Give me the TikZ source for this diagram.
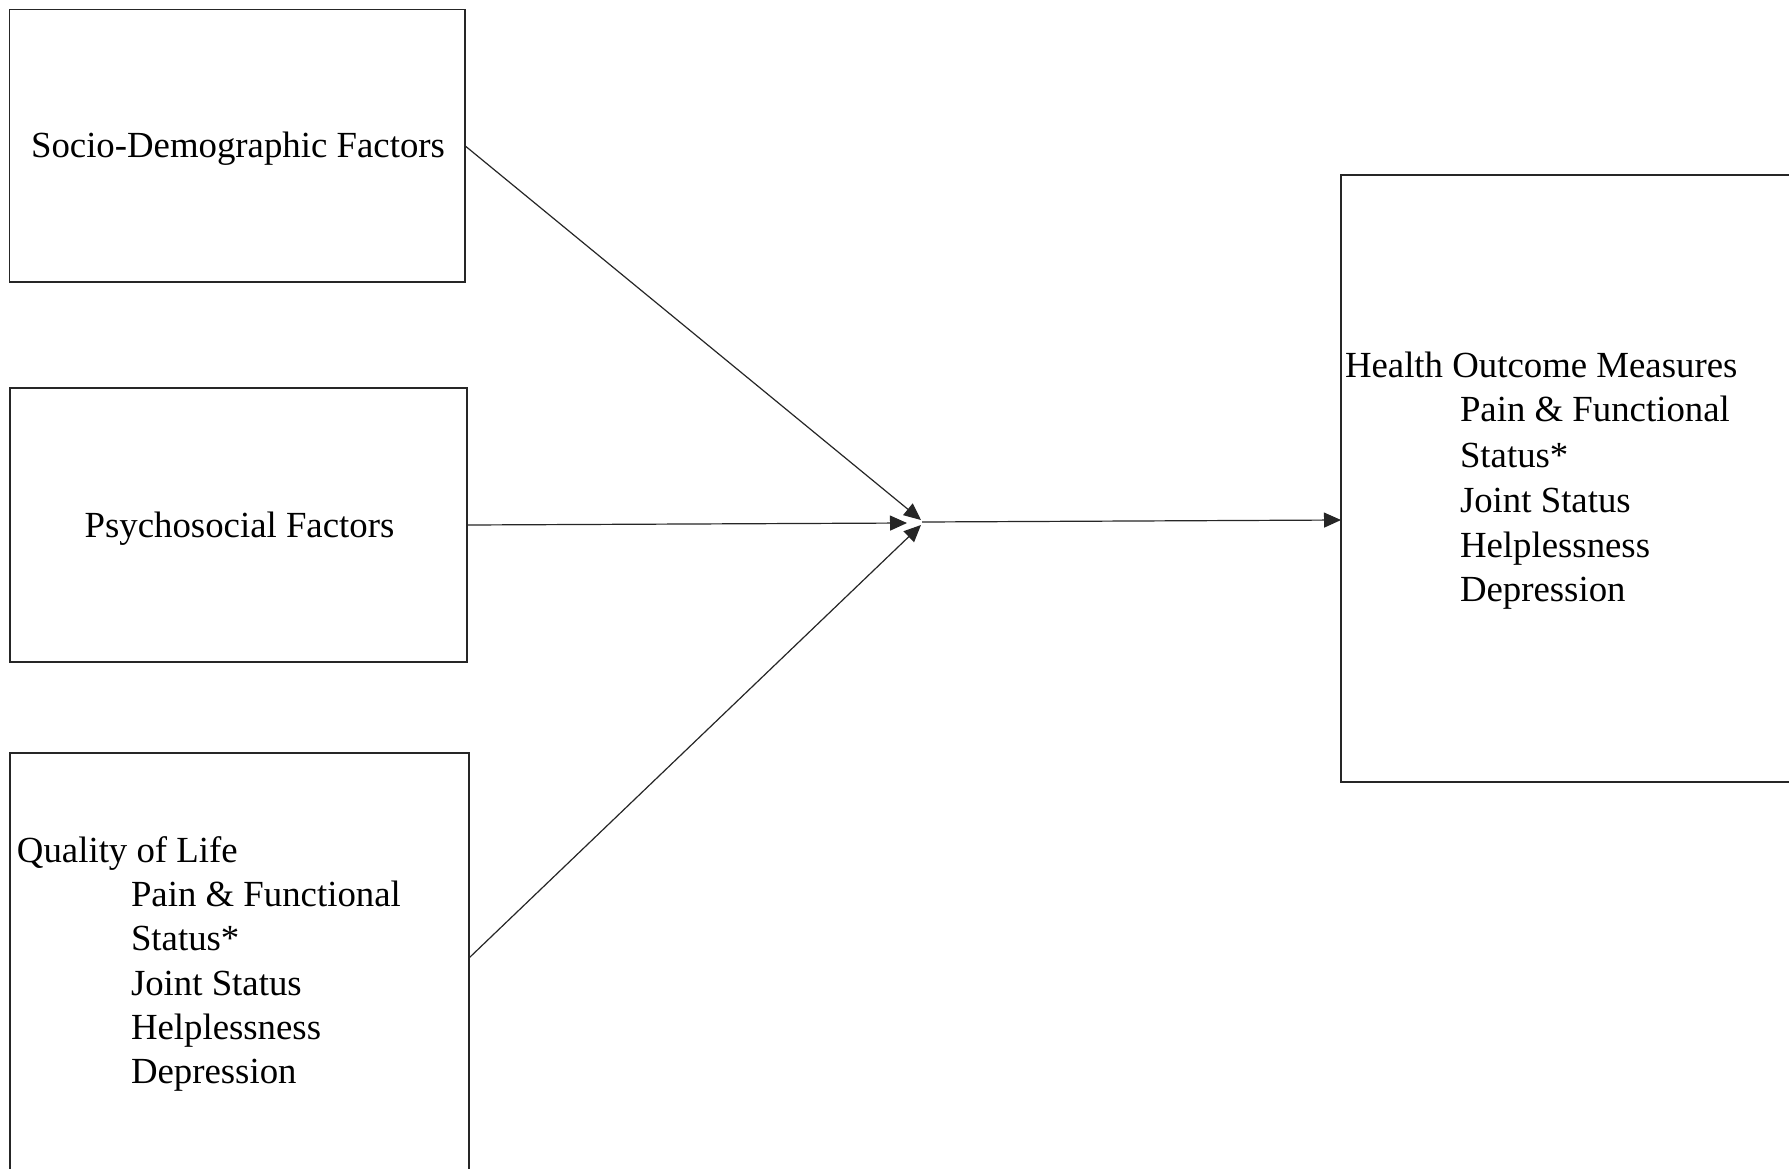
\documentclass[tikz,border=0pt]{standalone}
\usepackage{fontspec}
\setmainfont{Liberation Serif}
\usetikzlibrary{arrows.meta}
\begin{document}
\begin{tikzpicture}[x=0.5pt,y=-0.5pt,
  boxframe/.style={draw=black!85, line width=0.7pt, inner sep=0pt, outer sep=0pt},
  lbl/.style={inner sep=0pt, outer sep=0pt, font=\fontsize{18.4}{22.5}\selectfont},
  conn/.style={draw=black!85, line width=0.6pt, -{Triangle[length=8.5pt,width=7.5pt]}}
]
\useasboundingbox (0,0) rectangle (1789,1168);
\fill[white] (0,0) rectangle (1789,1168);
\clip (0,0) rectangle (1789,1168);

% boxes
\node[boxframe, minimum width=227.75pt, minimum height=136.25pt] (b1) at (237.25,145.75) {};
\node[boxframe, minimum width=228.5pt, minimum height=137pt] (b2) at (238.5,525) {};
\node[boxframe, minimum width=229.5pt, minimum height=211pt] (b3) at (239.5,964) {};
\node[boxframe, minimum width=229.5pt, minimum height=303.5pt] (b4) at (1570.5,478.5) {};

% texts
\node[lbl, anchor=base] (t1) at (238,157) {Socio-Demographic Factors};
\node[lbl, anchor=base] (t2) at (239.5,537) {Psychosocial Factors};

\node[lbl, anchor=base west] (q0) at (17,862) {Quality of Life};
\node[lbl, anchor=base west] (q1) at (131,906) {Pain \& Functional};
\node[lbl, anchor=base west] (q2) at (131,950) {Status*};
\node[lbl, anchor=base west] (q3) at (131,995) {Joint Status};
\node[lbl, anchor=base west] (q4) at (131,1039) {Helplessness};
\node[lbl, anchor=base west] (q5) at (131,1083) {Depression};

\node[lbl, anchor=base west] (h0) at (1345,377) {Health Outcome Measures};
\node[lbl, anchor=base west] (h1) at (1460,421) {Pain \& Functional};
\node[lbl, anchor=base west] (h2) at (1460,467) {Status*};
\node[lbl, anchor=base west] (h3) at (1460,512) {Joint Status};
\node[lbl, anchor=base west] (h4) at (1460,557) {Helplessness};
\node[lbl, anchor=base west] (h5) at (1460,601) {Depression};

% hub
\coordinate (hub) at (922,522);
\coordinate (hubtop) at (921,520);
\coordinate (hubmid) at (907,523);
\coordinate (hubbot) at (921,525);

% connectors
\draw[conn] (b1.east) -- (hubtop);
\draw[conn] (b2.east) -- (hubmid);
\draw[conn] ([yshift=3pt]b3.east) -- (hubbot);
\draw[conn] (hub) -- ([yshift=-20.75pt]b4.west);
\end{tikzpicture}
\end{document}
